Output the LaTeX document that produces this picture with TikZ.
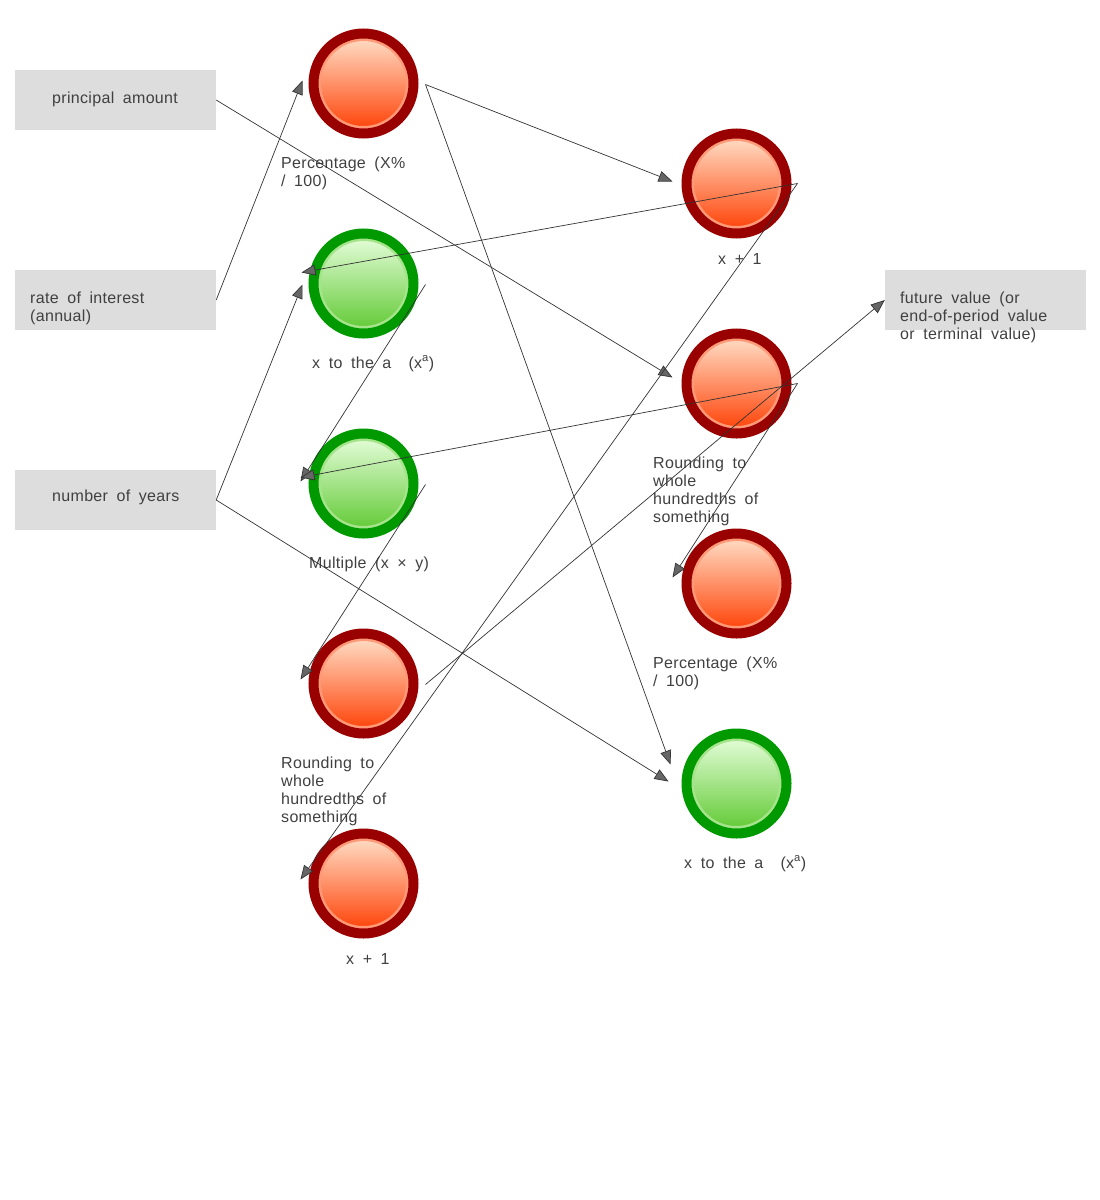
\documentclass[tikz,border=0pt]{standalone}
\usepackage{fontspec}
\setmainfont{Liberation Sans}[LetterSpace=2,WordSpace=1.8]
\usetikzlibrary{calc,arrows.meta}
\definecolor{ringred}{HTML}{990000}
\definecolor{redtop}{HTML}{FFE4CE}
\definecolor{redmid}{HTML}{FF9A66}
\definecolor{redbot}{HTML}{FF3C00}
\definecolor{redrim}{HTML}{FF9A78}
\definecolor{ringgreen}{HTML}{009900}
\definecolor{greentop}{HTML}{EAFFE0}
\definecolor{greenmid}{HTML}{AEEC8E}
\definecolor{greenbot}{HTML}{5CC82E}
\definecolor{greenrim}{HTML}{A6E48C}
\definecolor{boxgray}{HTML}{DDDDDD}
\definecolor{inkgray}{HTML}{404040}
\definecolor{wiregray}{HTML}{333333}
\tikzset{
	ball/.style={circle, line width=10pt, minimum size=100pt, inner sep=0pt},
	redball/.style={ball, draw=ringred, top color=redtop, middle color=redmid, bottom color=redbot,
		path picture={\draw[redrim, line width=3pt] (path picture bounding box.center) circle (44pt);}},
	greenball/.style={ball, draw=ringgreen, top color=greentop, middle color=greenmid, bottom color=greenbot,
		path picture={\draw[greenrim, line width=3pt] (path picture bounding box.center) circle (44pt);}},
	inbox/.style={fill=boxgray, minimum width=201pt, minimum height=60pt, inner sep=0pt},
	lbl/.style={inkgray, font=\fontsize{16}{18}\selectfont, inner sep=0pt, align=left, anchor=base west},
	wire/.style={wiregray, line width=0.7pt, -{Triangle[length=14pt,width=11pt,fill=black!60]}},
}
\begin{document}
\begin{tikzpicture}[x=1pt,y=-1pt]
\useasboundingbox (0,0) rectangle (1100,1200);
% input boxes
\node[inbox] (pa) at (115.5,100) {};
\node[inbox] (ri) at (115.5,300) {};
\node[inbox] (ny) at (115.5,500) {};
\node[inbox] (fv) at (985.5,300) {};
% base of a multi-line label is its last line
\node[lbl] (pat) at (52,103) {principal amount};
\node[lbl] (rit) at (30,321) {rate of interest\\(annual)};
\node[lbl] (nyt) at (52,501) {number of years};
\node[lbl] (fvt) at (900,339) {future value (or\\end-of-period value\\or terminal value)};
% first column
\node[redball] (a1) at (363.5,83.5) {};
\node[greenball] (a2) at (363.5,283.5) {};
\node[greenball] (a3) at (363.5,483.5) {};
\node[redball] (a4) at (363.5,683.5) {};
\node[redball] (a5) at (363.5,883.5) {};
\node[lbl] (a1t) at (281,186) {Percentage (X\%\\/ 100)};
\node[lbl] (a2t) at (312,368) {x to the a \ (x\textsuperscript{a})};
\node[lbl] (a3t) at (309,568) {Multiple (x × y)};
\node[lbl] (a4t) at (281,822) {Rounding to\\whole\\hundredths of\\something};
\node[lbl] (a5t) at (346,964) {x + 1};
% second column
\node[redball] (b1) at (736.5,183.5) {};
\node[redball] (b2) at (736.5,383.5) {};
\node[redball] (b3) at (736.5,583.5) {};
\node[greenball] (b4) at (736.5,783.5) {};
\node[lbl] (b1t) at (718,264) {x + 1};
\node[lbl] (b2t) at (653,522) {Rounding to\\whole\\hundredths of\\something};
\node[lbl] (b3t) at (653,686) {Percentage (X\%\\/ 100)};
\node[lbl] (b4t) at (684,868) {x to the a \ (x\textsuperscript{a})};
% connectors
\draw[wire] (pa.east) -- ($(b2.west)+(-9,-6)$);
\draw[wire] (ri.east) -- ($(a1.west)+(-6,-3)$);
\draw[wire] (ny.east) -- ($(a2.west)+(-6,1)$);
\draw[wire] (ny.east) -- ($(b4.west)+(-13,-2)$);
\draw[wire] ($(a1.east)+(7,1)$) -- ($(b1.west)+(-9,-2)$);
\draw[wire] ($(a1.east)+(7,1)$) -- ($(b4.west)+(-11,-19)$);
\draw[wire] ($(b1.east)+(6,0)$) -- ($(a2.west)+(-7,-11)$);
\draw[wire] ($(b1.east)+(6,0)$) -- ($(a5.west)+(-8,-4)$);
\draw[wire] ($(a2.east)+(7,1)$) -- ($(a3.west)+(-8,-2)$);
\draw[wire] ($(b2.east)+(6,0)$) -- ($(a3.west)+(-8,-6)$);
\draw[wire] ($(b2.east)+(6,0)$) -- ($(b3.west)+(-9,-6)$);
\draw[wire] ($(a3.east)+(7,1)$) -- ($(a4.west)+(-8,-4)$);
\draw[wire] ($(a4.east)+(7,1)$) -- (fv.west);
\end{tikzpicture}
\end{document}
